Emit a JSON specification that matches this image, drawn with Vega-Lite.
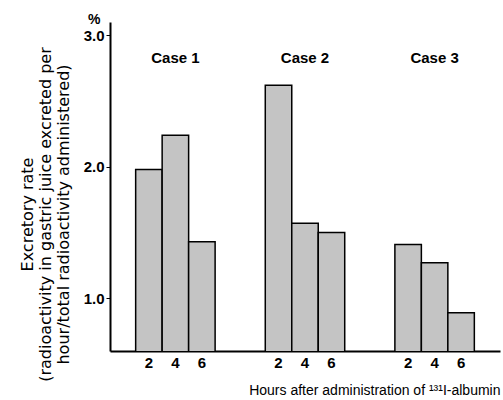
{
  "$schema": "https://vega.github.io/schema/vega-lite/v6.json",
  "width": 390,
  "height": 329,
  "autosize": {"type": "none"},
  "padding": {"left": 110, "top": 22, "right": 3, "bottom": 49},
  "background": "white",
  "title": {"text": "%", "anchor": "start", "frame": "group", "dx": -22, "dy": 20, "offset": 1, "fontSize": 14, "fontWeight": "bold", "font": "Liberation Sans", "color": "black", "baseline": "bottom"},
  "data": {"values": [
    {"case": "Case 1", "hour": "2", "rate": 1.98},
    {"case": "Case 1", "hour": "4", "rate": 2.24},
    {"case": "Case 1", "hour": "6", "rate": 1.43},
    {"case": "Case 2", "hour": "2", "rate": 2.62},
    {"case": "Case 2", "hour": "4", "rate": 1.57},
    {"case": "Case 2", "hour": "6", "rate": 1.50},
    {"case": "Case 3", "hour": "2", "rate": 1.41},
    {"case": "Case 3", "hour": "4", "rate": 1.27},
    {"case": "Case 3", "hour": "6", "rate": 0.89}
  ]},
  "config": {"view": {"stroke": null}, "font": "Liberation Sans"},
  "encoding": {
    "x": {"field": "case", "type": "nominal", "sort": ["Case 1", "Case 2", "Case 3"],
      "scale": {"paddingInner": 0.387, "paddingOuter": 0.198},
      "axis": {"labels": false, "ticks": false, "domainColor": "black", "domainWidth": 2,
        "title": "Hours after administration of ¹³¹I-albumin", "titleAnchor": "end", "titleFontSize": 14, "titleFontWeight": "normal", "titleColor": "black", "titlePadding": 32, "titleFont": "Liberation Sans"}}
  },
  "layer": [
    {
      "mark": {"type": "bar", "fill": "#c4c4c4", "stroke": "black", "strokeWidth": 1.5, "clip": true},
      "encoding": {
        "xOffset": {"field": "hour", "type": "ordinal", "sort": ["2", "4", "6"], "scale": {"paddingInner": 0, "paddingOuter": 0}},
        "y": {"field": "rate", "type": "quantitative", "scale": {"domain": [0.6, 3.1], "nice": false, "zero": false},
          "axis": {"values": [1, 2, 3], "format": ".1f", "grid": false, "domainColor": "black", "domainWidth": 2, "tickColor": "black", "tickSize": 4, "labelFontSize": 15, "labelFontWeight": "bold", "labelColor": "black", "labelPadding": 2,
            "title": ["Excretory rate", "(radioactivity in gastric juice excreted per", "hour/total radioactivity administered)"],
            "titleFont": "DejaVu Sans", "titleFontSize": 16, "titleFontWeight": "normal", "titleColor": "black", "titleLineHeight": 18, "titlePadding": 12, "titleY": 192}}
      }
    },
    {
      "mark": {"type": "text", "fontSize": 15, "fontWeight": "bold", "color": "black"},
      "encoding": {
        "xOffset": {"field": "hour", "type": "ordinal", "sort": ["2", "4", "6"], "scale": {"paddingInner": 0, "paddingOuter": 0}},
        "y": {"datum": 0.506},
        "text": {"field": "hour"}
      }
    },
    {
      "transform": [{"filter": "datum.hour == '2'"}],
      "mark": {"type": "text", "fontSize": 15, "fontWeight": "bold", "color": "black"},
      "encoding": {
        "y": {"datum": 2.83},
        "text": {"field": "case"}
      }
    }
  ]
}
